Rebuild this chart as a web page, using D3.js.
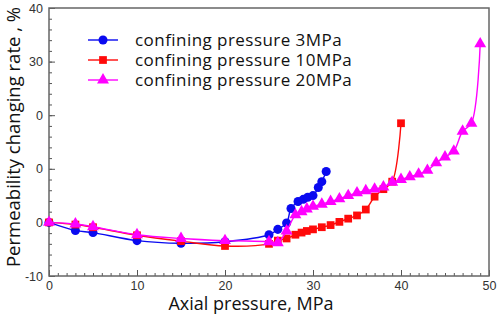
<!DOCTYPE html>
<html lang="en">
<head>
<meta charset="UTF-8">
<title>Permeability changing rate</title>
<script src="https://d3js.org/d3.v7.min.js"></script>
<style>
    body { margin: 0; background: #fff; }
    .tick-label { font: 12.5px "Liberation Sans", Arial, sans-serif; fill: #333; }
    .axis-title { font: 18px "Open Sans", sans-serif; fill: #111; }
    .legend text { font: 17px "Open Sans", sans-serif; fill: #111; letter-spacing: 0.45px; }
</style>
</head>
<body>
<svg id="chart"></svg>
<script>
// data
const xTicks = [0, 10, 20, 30, 40, 50];
const yTicks = [40, 30, 20, 10, 0, -10];
const yTickLabels = ["40", "30", "0", "0", "0", "-10"];

const cp3x = [0, 3, 5, 10, 15, 20, 25, 26, 27, 27.5, 28.3, 28.9, 29.4, 30, 30.6, 31, 31.5];
const cp3y = [0, -1.5, -1.9, -3.4, -3.9, -3.6, -2.3, -1.3, -0.1, 2.6, 3.9, 4.3, 4.7, 5.0, 6.5, 7.6, 9.5];

const cp10x = [0, 3, 5, 10, 15, 20, 25, 26, 27, 28, 28.7, 29.3, 30, 31, 32, 33, 34, 35, 36, 37, 38, 39, 40];
const cp10y = [0, -0.4, -0.9, -2.4, -3.5, -4.4, -4.0, -3.4, -3.0, -2.3, -1.9, -1.6, -1.3, -0.9, -0.5, 0.1, 0.7, 1.3, 2.4, 4.8, 6.2, 7.6, 18.5];

const cp20x = [0, 3, 5, 10, 15, 20, 25, 26, 27, 28, 28.7, 29.3, 30, 31, 32, 33, 34, 35, 36, 37, 38, 39, 40, 41, 42, 43, 44, 45, 46, 47, 48, 49];
const cp20y = [0, -0.3, -0.8, -2.3, -3.0, -3.4, -3.6, -3.8, -1.6, 1.4, 2.0, 2.5, 3.0, 3.4, 3.9, 4.4, 5.0, 5.5, 5.9, 6.2, 6.6, 7.5, 8.0, 8.5, 9.0, 9.7, 11.1, 12.2, 13.3, 17.0, 18.5, 33.3];

const seriesNames = ["confining pressure 3MPa", "confining pressure 10MPa", "confining pressure 20MPa"];
const seriesColors = ["#0a0af0", "#ff0a0a", "#ff00ff"];
const seriesSymbols = [d3.symbolCircle, d3.symbolSquare, d3.symbolTriangle];
const seriesSizes = [64, 60, 62];

const width = 498, height = 316;
const margin = { top: 8, right: 9, bottom: 40, left: 49 };

const svg = d3.select("#chart")
    .attr("width", width)
    .attr("height", height);

const x = d3.scaleLinear().domain([0, 50]).range([margin.left, width - margin.right]);
const y = d3.scaleLinear().domain([-10, 40]).range([height - margin.bottom, margin.top]);

// inward ticks, bottom and left
const xAxis = d3.axisBottom(x)
    .tickValues(d3.range(0, 51, 1))
    .tickSize(-3).tickFormat("");
const xMajor = d3.axisBottom(x)
    .tickValues(xTicks)
    .tickSize(-6).tickPadding(5);
const yAxis = d3.axisLeft(y)
    .tickValues(d3.range(-10, 41, 2))
    .tickSize(-3).tickFormat("");
const yMajor = d3.axisLeft(y)
    .tickValues(yTicks)
    .tickSize(-6).tickPadding(6)
    .tickFormat((d, i) => yTickLabels[i]);

function styleAxis(g) {
    g.select(".domain").remove();
    g.selectAll("line").attr("stroke", "#555").attr("stroke-width", 1);
    g.selectAll("text").attr("class", "tick-label");
}

svg.append("g").attr("transform", `translate(0,${y(-10)})`).call(xAxis).call(styleAxis);
svg.append("g").attr("transform", `translate(0,${y(-10)})`).call(xMajor).call(styleAxis);
svg.append("g").attr("transform", `translate(${x(0)},0)`).call(yAxis).call(styleAxis);
svg.append("g").attr("transform", `translate(${x(0)},0)`).call(yMajor).call(styleAxis);

svg.append("rect")
    .attr("x", x(0)).attr("y", y(40))
    .attr("width", x(50) - x(0)).attr("height", y(-10) - y(40))
    .attr("fill", "none").attr("stroke", "#666").attr("stroke-width", 1.5);

// series
const allX = [cp3x, cp10x, cp20x];
const allY = [cp3y, cp10y, cp20y];
const line = d3.line().x(d => x(d[0])).y(d => y(d[1])).curve(d3.curveCatmullRom.alpha(0.5));

for (let s = 0; s < 3; s++) {
    const pts = allX[s].map((v, i) => [v, allY[s][i]]);
    svg.append("path")
        .datum(pts)
        .attr("d", line)
        .attr("fill", "none")
        .attr("stroke", seriesColors[s])
        .attr("stroke-width", 1.4);
    svg.append("g").selectAll("path")
        .data(pts)
        .enter().append("path")
        .attr("transform", d => `translate(${x(d[0])},${y(d[1])})`)
        .attr("d", d3.symbol().type(seriesSymbols[s]).size(seriesSizes[s]))
        .attr("fill", seriesColors[s]);
}

// legend
const legend = svg.append("g").attr("class", "legend");
seriesNames.forEach((name, i) => {
    const ly = 40 + i * 20;
    legend.append("line")
        .attr("x1", 88).attr("x2", 118).attr("y1", ly).attr("y2", ly)
        .attr("stroke", seriesColors[i]).attr("stroke-width", 1.4);
    legend.append("path")
        .attr("transform", `translate(103,${ly})`)
        .attr("d", d3.symbol().type(seriesSymbols[i]).size(seriesSizes[i]))
        .attr("fill", seriesColors[i]);
    legend.append("text")
        .attr("x", 135).attr("y", ly).attr("dy", "0.35em")
        .text(name);
});

// axis titles
svg.append("text")
    .attr("class", "axis-title")
    .attr("x", 251).attr("y", 310)
    .attr("text-anchor", "middle")
    .text("Axial pressure, MPa");

svg.append("text")
    .attr("class", "axis-title")
    .style("font-size", "18.5px")
    .attr("transform", "translate(20,137) rotate(-90)")
    .attr("text-anchor", "middle")
    .text("Permeability changing rate , %");
</script>
</body>
</html>
